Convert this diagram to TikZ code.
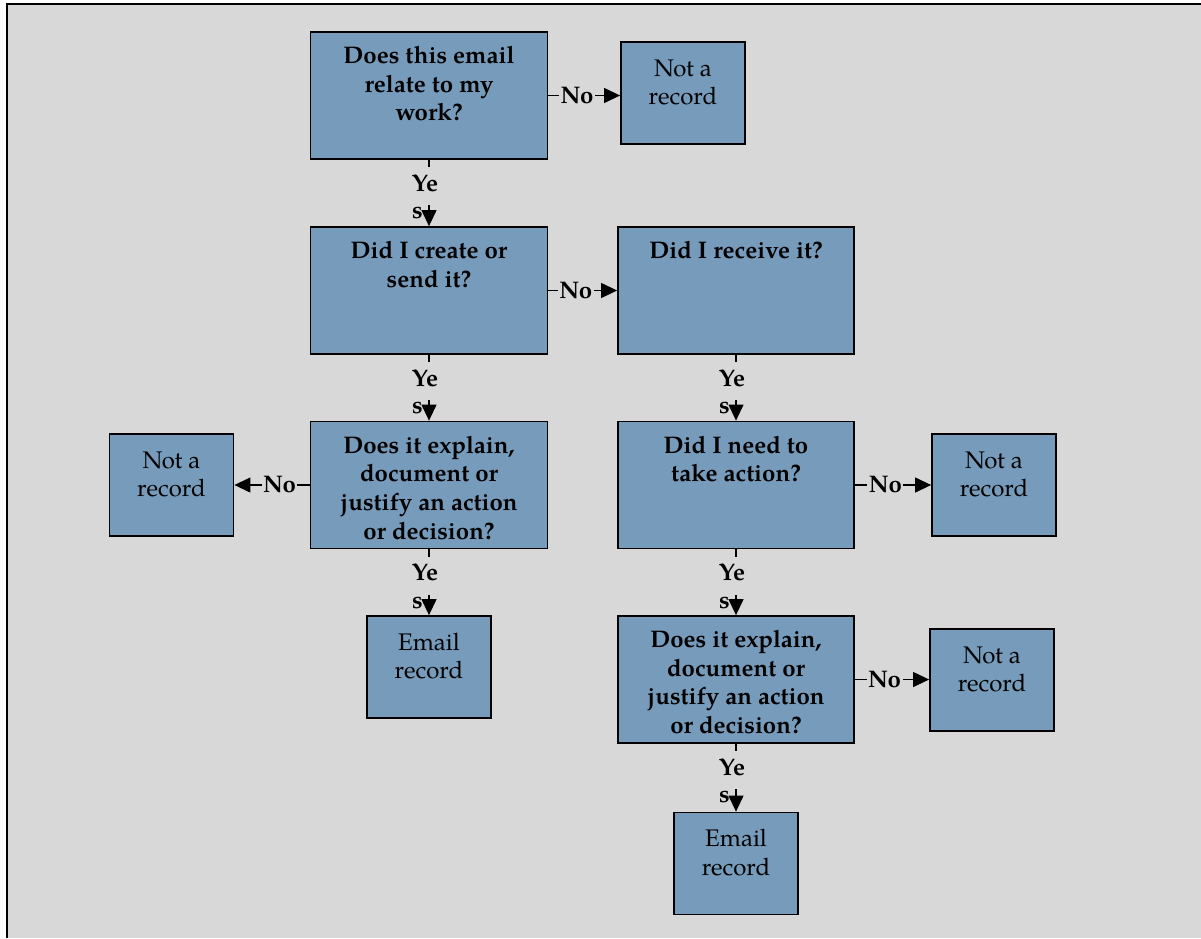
\documentclass[tikz,border=0pt]{standalone}
\usepackage{fontspec}
\setmainfont{texgyrepagella}[Extension=.otf, UprightFont=*-regular, BoldFont=*-bold, ItalicFont=*-italic, BoldItalicFont=*-bolditalic]
\usetikzlibrary{arrows.meta}
\definecolor{bggray}{RGB}{216,216,216}
\definecolor{boxblue}{RGB}{119,155,187}
\newcommand\fsz{\fontsize{24}{28.7}\selectfont}
\newcommand\boxtxt[4]{\parbox[c][#1][t]{#2}{\centering\rule{0pt}{#3}#4\par}}
\tikzset{
  qbox/.style={draw=black, line width=1.8pt, fill=boxblue, inner sep=0pt, font=\fsz\bfseries},
  rbox/.style={draw=black, line width=1.8pt, fill=boxblue, inner sep=0pt, font=\fsz},
  arr/.style={line width=1.2pt, -{Triangle[length=16pt,width=15pt]}},
  nolab/.style={fill=bggray, inner xsep=1.5pt, inner ysep=0pt, font=\fsz\bfseries, pos=0.4},
  yelab/.style={fill=bggray, inner xsep=2pt, inner ysep=0pt, font=\fsz\bfseries, text height=24pt, text depth=14pt, anchor=north},
  slab/.style={font=\fsz\bfseries, anchor=base west, inner sep=0pt}
}
\begin{document}
\begin{tikzpicture}[x=1pt,y=-1pt]
\useasboundingbox (0,0) rectangle (1201,938);
\fill[white] (0,0) rectangle (1201,938);
\fill[bggray] (7,4) rectangle (1201,938);
\draw[line width=2pt] (7,938) -- (7,4) -- (1201,4);

% left column
\node[qbox] (A) at (429,95.5) {\boxtxt{127pt}{237pt}{31.5pt}{Does this email\\relate to my\\work?}};
\node[qbox] (B) at (429,290.5) {\boxtxt{127pt}{237pt}{31.5pt}{Did I create or\\send it?}};
\node[qbox] (D) at (429,485) {\boxtxt{127pt}{237pt}{31.5pt}{Does it explain,\\document or\\justify an action\\or decision?}};
\node[rbox] (E1) at (429,667) {\boxtxt{102pt}{124pt}{34pt}{Email\\record}};
\node[rbox] (NR1) at (683,93) {\boxtxt{102pt}{124pt}{34pt}{Not a\\record}};
\node[rbox] (NR2) at (171.5,485) {\boxtxt{102pt}{124pt}{34pt}{Not a\\record}};

% right column
\node[qbox] (C) at (736,290.5) {\boxtxt{127pt}{236pt}{31.5pt}{Did I receive it?}};
\node[qbox] (F) at (736,485) {\boxtxt{127pt}{236pt}{31.5pt}{Did I need to\\take action?}};
\node[qbox] (G) at (736,679.5) {\boxtxt{127pt}{236pt}{31.5pt}{Does it explain,\\document or\\justify an action\\or decision?}};
\node[rbox] (E2) at (736,863.5) {\boxtxt{102pt}{124pt}{34pt}{Email\\record}};
\node[rbox] (NR3) at (994,485) {\boxtxt{102pt}{124pt}{34pt}{Not a\\record}};
\node[rbox] (NR4) at (992,680) {\boxtxt{102pt}{124pt}{34pt}{Not a\\record}};

% No connectors
\draw[arr] (A.east) -- (A.east -| NR1.west) node[nolab] (nA) {No};
\draw[arr] (B.east) -- (C.west) node[nolab] (nB) {No};
\draw[arr] (D.west) -- (NR2.east) node[nolab] (nD) {No};
\draw[arr] (F.east) -- (NR3.west) node[nolab] (nF) {No};
\draw[arr] (G.east) -- (G.east -| NR4.west) node[nolab] (nG) {No};

% Yes connectors
\draw[arr] (A.south) -- (B.north);
\node[yelab] (yA) at ([xshift=-4pt,yshift=-7pt]A.south) {Ye};
\node[slab] (sA) at ([xshift=-17pt,yshift=-59pt]A.south) {s};

\draw[arr] (B.south) -- (D.north);
\node[yelab] (yB) at ([xshift=-4pt,yshift=-7pt]B.south) {Ye};
\node[slab] (sB) at ([xshift=-17pt,yshift=-59pt]B.south) {s};

\draw[arr] (D.south) -- (E1.north);
\node[yelab] (yD) at ([xshift=-4pt,yshift=-7pt]D.south) {Ye};
\node[slab] (sD) at ([xshift=-17pt,yshift=-59pt]D.south) {s};

\draw[arr] (C.south) -- (F.north);
\node[yelab] (yC) at ([xshift=-4pt,yshift=-7pt]C.south) {Ye};
\node[slab] (sC) at ([xshift=-17pt,yshift=-59pt]C.south) {s};

\draw[arr] (F.south) -- (G.north);
\node[yelab] (yF) at ([xshift=-4pt,yshift=-7pt]F.south) {Ye};
\node[slab] (sF) at ([xshift=-17pt,yshift=-59pt]F.south) {s};

\draw[arr] (G.south) -- (E2.north);
\node[yelab] (yG) at ([xshift=-4pt,yshift=-7pt]G.south) {Ye};
\node[slab] (sG) at ([xshift=-17pt,yshift=-59pt]G.south) {s};
\end{tikzpicture}
\end{document}
